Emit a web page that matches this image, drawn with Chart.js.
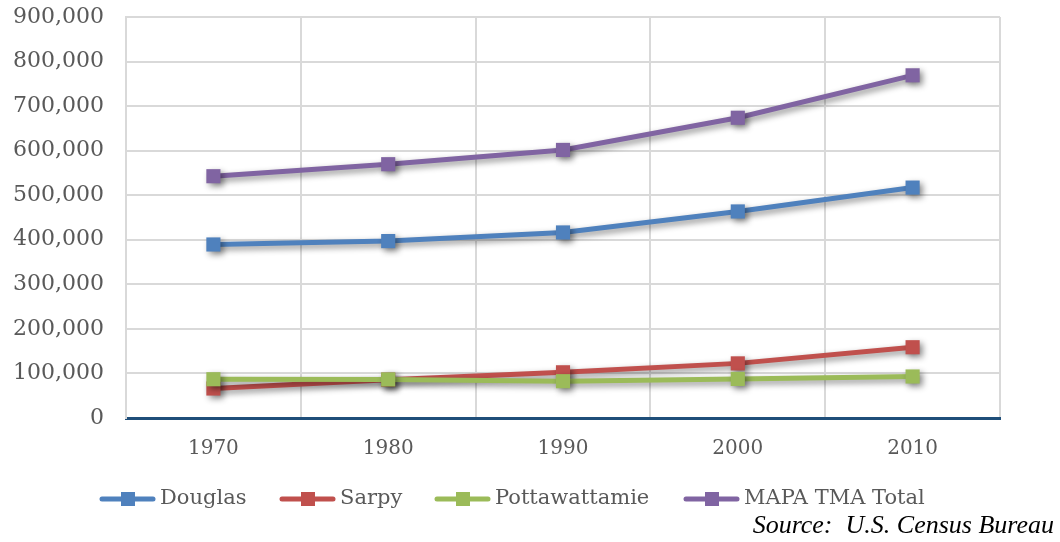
<!DOCTYPE html>
<html>
<head>
<meta charset="utf-8">
<script src="https://cdn.jsdelivr.net/npm/chart.js@4.4.1/dist/chart.umd.min.js"></script>
<style>
  html, body { margin: 0; padding: 0; background: #fff; }
  #wrap { width: 1060px; height: 542px; position: relative; }
</style>
</head>
<body>
<div id="wrap"><canvas id="chart"></canvas></div>
<script>
// Population by county, 1970-2010 (U.S. Census)
const years = ["1970", "1980", "1990", "2000", "2010"];
const douglas = [389455, 397038, 416444, 463585, 517110];
const sarpy = [66200, 86015, 102583, 122595, 158840];
const pottawattamie = [86991, 86561, 82628, 87704, 93158];
const mapaTotal = [542646, 569614, 601655, 673884, 769108];

const seriesNames = ["Douglas", "Sarpy", "Pottawattamie", "MAPA TMA Total"];
const seriesColors = ["#4F81BD", "#C0504D", "#9BBB59", "#8064A2"];
const yTicks = [0, 100000, 200000, 300000, 400000, 500000, 600000, 700000, 800000, 900000];

const FONT = "'DejaVu Serif', serif";
const TEXT = "#595959";

function makeSet(i, data) {
  return {
    label: seriesNames[i],
    data,
    borderColor: seriesColors[i],
    backgroundColor: seriesColors[i],
    borderWidth: 5,
    pointStyle: "rect",
    pointRadius: 10,
    pointHoverRadius: 10,
    pointBorderWidth: 0,
    tension: 0,
    // later series on top
    order: 4 - i,
  };
}

// soft drop shadow under the lines, like the office chart
const shadowPlugin = {
  id: "shadow",
  beforeDatasetsDraw(chart) {
    const c = chart.ctx;
    c.save();
    c.shadowColor = "rgba(0,0,0,0.45)";
    c.shadowBlur = 6;
    c.shadowOffsetX = 3;
    c.shadowOffsetY = 3;
  },
  afterDatasetsDraw(chart) {
    chart.ctx.restore();
  },
};

// legend with line+square symbols, plus source note
const legendX = [99, 279, 434, 683];
const legendPlugin = {
  id: "customLegend",
  afterDraw(chart) {
    const c = chart.ctx;
    c.save();
    const y = 499;
    chart.data.datasets.forEach((ds, i) => {
      const x = legendX[i];
      c.strokeStyle = ds.borderColor;
      c.lineWidth = 5;
      c.lineCap = "round";
      c.beginPath();
      c.moveTo(x + 3, y);
      c.lineTo(x + 54, y);
      c.stroke();
      c.fillStyle = ds.borderColor;
      c.fillRect(x + 22, y - 7, 14, 14);
      c.fillStyle = TEXT;
      c.font = "21px " + FONT;
      c.textBaseline = "middle";
      c.textAlign = "left";
      c.fillText(ds.label, x + 61, y);
    });
    c.fillStyle = "#000";
    c.font = "italic 26px 'Liberation Serif', serif";
    c.textAlign = "right";
    c.textBaseline = "middle";
    c.fillText("Source:  U.S. Census Bureau", 1054, 526);
    c.restore();
  },
};

new Chart(document.getElementById("chart"), {
  type: "line",
  data: {
    labels: years,
    datasets: [
      makeSet(0, douglas),
      makeSet(1, sarpy),
      makeSet(2, pottawattamie),
      makeSet(3, mapaTotal),
    ],
  },
  options: {
    responsive: true,
    maintainAspectRatio: false,
    animation: false,
    layout: { padding: { top: 17, right: 60, left: 0, bottom: 0 } },
    plugins: {
      legend: { display: false },
      tooltip: { enabled: false },
    },
    scales: {
      x: {
        offset: true,
        grid: { offset: true, color: "#D9D9D9", lineWidth: 2, drawTicks: false },
        border: { color: "#1F4E79", width: 3 },
        ticks: { color: TEXT, font: { family: FONT, size: 20 }, padding: 19 },
        afterFit(scale) { scale.height = 124; },
      },
      y: {
        min: 0,
        max: 900000,
        afterBuildTicks(scale) { scale.ticks = yTicks.map((v) => ({ value: v })); },
        grid: {
          color: (ctx) => (ctx.tick && ctx.tick.value === 0 ? "rgba(0,0,0,0)" : "#D9D9D9"),
          lineWidth: 2,
          drawTicks: false,
        },
        border: { color: "#D9D9D9", width: 2 },
        ticks: {
          color: TEXT,
          font: { family: FONT, size: 22 },
          padding: 22,
          callback: (v) => v.toLocaleString("en-US"),
        },
        afterFit(scale) {
          scale.width = 126;
          scale.paddingTop = 0;
        },
      },
    },
  },
  plugins: [shadowPlugin, legendPlugin],
});
</script>
</body>
</html>
